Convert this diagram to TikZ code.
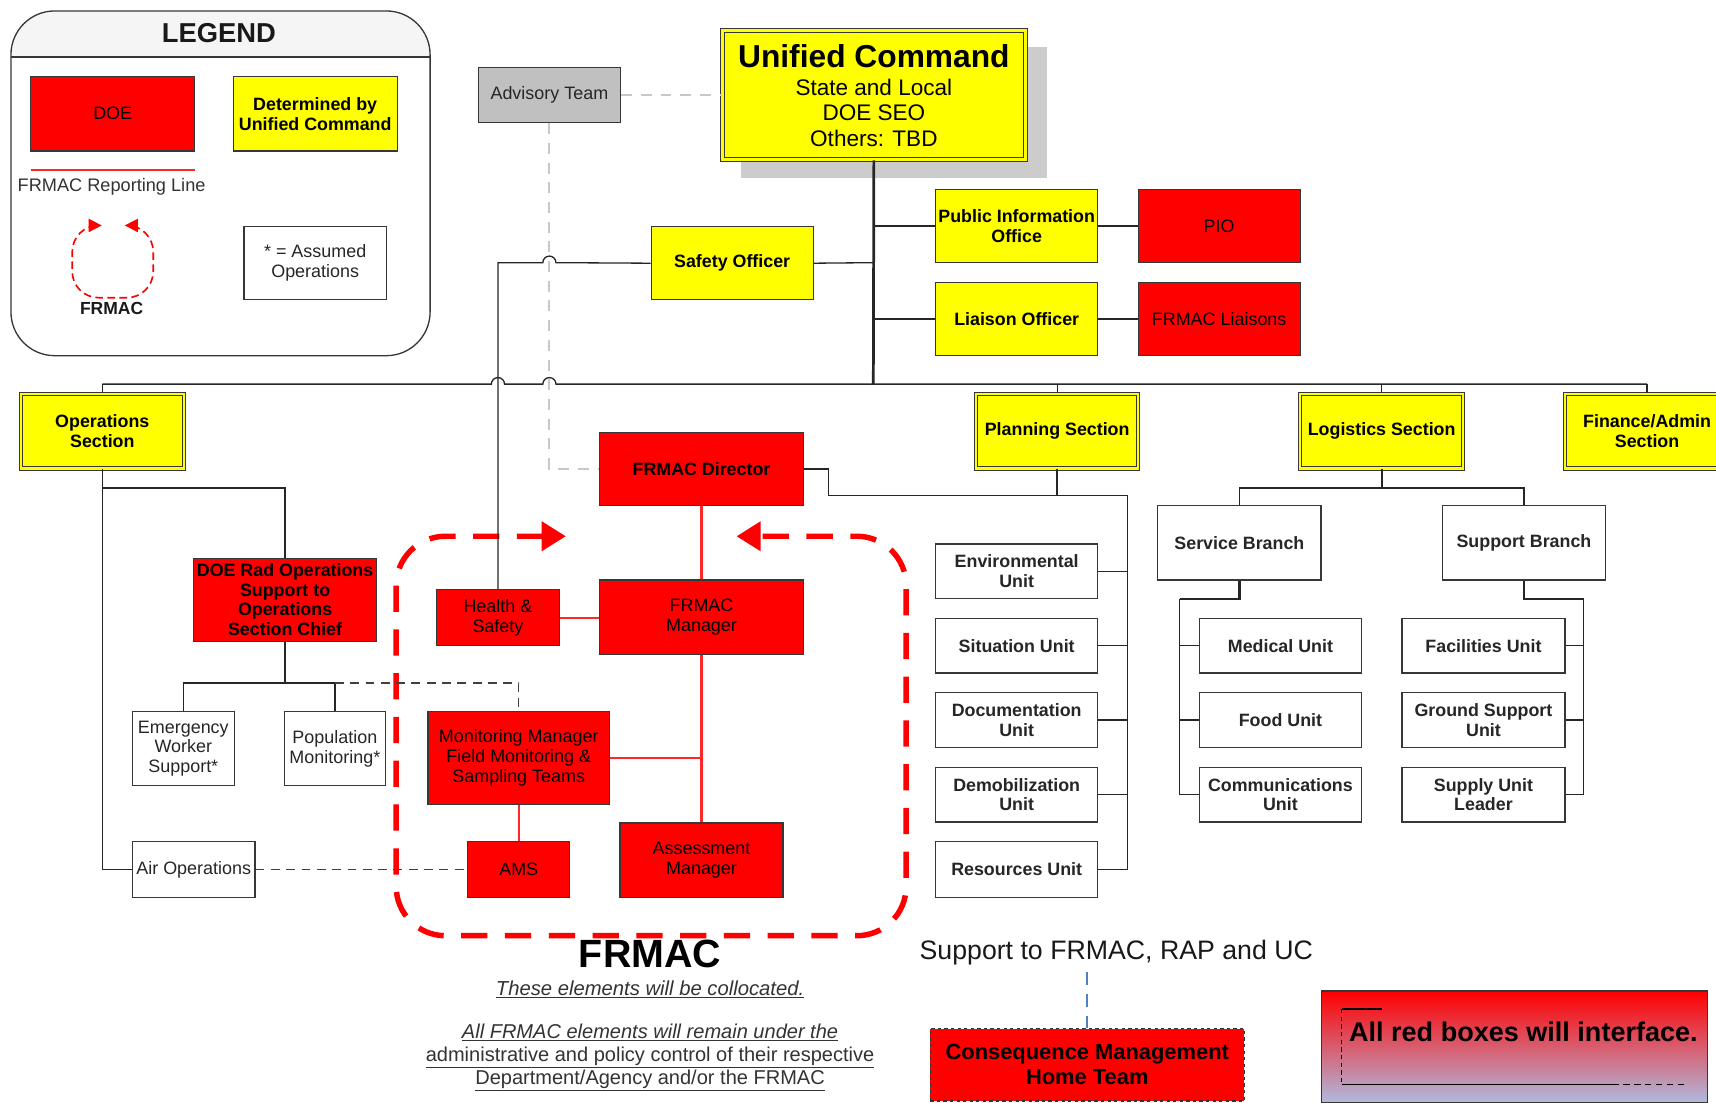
\documentclass[tikz,border=0pt]{standalone}
\usepackage{fontspec}
\setmainfont{Liberation Sans}
\usetikzlibrary{arrows.meta}
\definecolor{ylw}{RGB}{255,255,0}
\definecolor{rd}{RGB}{255,0,0}
\definecolor{rline}{RGB}{255,40,40}
\definecolor{advgray}{RGB}{192,192,192}
\definecolor{dashgray}{RGB}{200,200,200}
\definecolor{shadowgray}{RGB}{204,204,204}
\definecolor{bordr}{RGB}{55,55,55}
\definecolor{bluedash}{RGB}{79,129,189}
\definecolor{gradblue}{RGB}{176,186,222}
\begin{document}
\begin{tikzpicture}[x=1pt,y=-1pt,
  sz/.style 2 args={minimum width=#1pt, minimum height=#2pt},
  box/.style={draw=bordr, line width=1.1pt, inner sep=1pt, align=center, font=\fontsize{16.4}{18}\selectfont, text=black},
  yb/.style={box, fill=ylw, font=\fontsize{16.3}{18}\selectfont\bfseries},
  ysec/.style={yb, double=ylw, double distance=2.2pt, line width=0.9pt},
  rb/.style={box, fill=rd},
  rbb/.style={rb, font=\fontsize{16.3}{18}\selectfont\bfseries},
  wb/.style={box, fill=white, text=black!85},
  wbb/.style={wb, font=\fontsize{16.3}{18}\selectfont\bfseries},
  conn/.style={draw=black!85, line width=1.2pt},
  rconn/.style={draw=rline, line width=2pt},
  gdash/.style={draw=dashgray, line width=2pt, dash pattern=on 10pt off 8pt},
  kdash/.style={draw=black!75, line width=1.2pt, dash pattern=on 8pt off 6pt},
  bigtip/.tip={Triangle[length=22pt,width=26pt]},
  smalltip/.tip={Triangle[length=12pt,width=12pt]},
]
\useasboundingbox (0,0) rectangle (1568,1007);
\fill[white] (0,0) rectangle (1568,1007);

% ---------------- Legend ----------------
\begin{scope}
\clip[rounded corners=40pt] (10,10) rectangle (393,325);
\fill[gray!8] (10,10) rectangle (393,52);
\end{scope}
\draw[line width=1.2pt, draw=bordr, rounded corners=40pt] (10,10) rectangle (393,325);
\coordinate (lgh1) at (10,52);
\coordinate (lgh2) at (393,52);
\draw[line width=1.2pt, draw=bordr] (lgh1) -- (lgh2);
\node[font=\fontsize{25}{27}\selectfont\bfseries, text=black!90] (lgtitle) at (200,30) {LEGEND};
\node[rb, sz={150}{68}] (lgdoe) at (103,104) {DOE};
\node[yb, sz={150}{68}] (lgdet) at (288,104) {Determined by\\Unified Command};
\coordinate (lgl1) at (28,155);
\coordinate (lgl2) at (178,155);
\draw[rconn] (lgl1) -- (lgl2);
\node[font=\fontsize{16.6}{18}\selectfont, text=black!80] (lgrep) at (102,171) {FRMAC Reporting Line};
\coordinate (lga) at (93,206);
\coordinate (lgb) at (114,206);
\draw[draw=rd, line width=1.5pt, dash pattern=on 7pt off 4pt, rounded corners=24pt, {smalltip}-{smalltip}] (lga) -- (66,206) -- (66,272) -- (140,272) -- (140,206) -- (lgb);
\node[font=\fontsize{16}{18}\selectfont\bfseries, text=black!90] (lgfr) at (102,282) {FRMAC};
\node[wb, sz={130}{67}] (lgass) at (288,240.5) {* = Assumed\\Operations};

% ---------------- Command ----------------
\fill[shadowgray] (677,43) rectangle (957,163);
\node[ysec, line width=1pt, double distance=2.5pt, sz={277}{118}, font=\fontsize{20.6}{23}\selectfont] (uc) at (798.5,87)
  {{\fontsize{29}{30}\selectfont\bfseries Unified Command}\\[3pt]State and Local\\DOE SEO\\Others: TBD};
\node[box, fill=advgray, text=black!85, sz={130}{50}] (adv) at (502,87) {Advisory Team};
\node[yb, sz={148}{67}] (safety) at (669,240.5) {Safety Officer};
\node[yb, sz={148}{67}] (pioy) at (929,206.5) {Public Information\\Office};
\node[rb, sz={148}{67}] (pior) at (1114,206.5) {PIO};
\node[yb, sz={148}{67}] (liay) at (929,291.5) {Liaison Officer};
\node[rb, sz={148}{67}] (liar) at (1114,291.5) {FRMAC Liaisons};

% ---------------- Sections ----------------
\node[ysec, sz={149}{68}] (ops) at (93.5,394) {Operations\\Section};
\node[ysec, sz={148}{68}] (plan) at (966,394) {Planning Section};
\node[ysec, sz={149}{68}] (logs) at (1262.5,394) {Logistics Section};
\node[ysec, sz={150}{68}] (fin) at (1505,394) {Finance/Admin\\Section};

% ---------------- FRMAC ----------------
\coordinate (fa) at (517,490);
\coordinate (fb) at (673,490);
\draw[draw=rd, line width=5pt, dash pattern=on 24pt off 16pt, rounded corners=45pt, {bigtip}-{bigtip}] (fa) -- (362,490) -- (362,855) -- (828,855) -- (828,490) -- (fb);

\node[rbb, sz={186}{67}] (dir) at (641,428.5) {FRMAC Director};
\node[rb, sz={186}{68}] (mgr) at (641,564) {FRMAC\\Manager};
\node[rb, sz={112}{51}] (hs) at (455,564.5) {Health \&\\Safety};
\node[rb, sz={166}{85}] (mon) at (474,692.5) {Monitoring Manager\\Field Monitoring \&\\Sampling Teams};
\node[rb, sz={93}{51}] (ams) at (474,794.5) {AMS};
\node[rb, sz={149}{68}] (asm) at (641,786) {Assessment\\Manager};

% ---------------- Operations ----------------
\node[rbb, sz={167}{76}] (rad) at (260.5,548) {DOE Rad Operations\\Support to\\Operations\\Section Chief};
\node[wb, sz={93}{68}] (ews) at (167.5,684) {Emergency\\Worker\\Support*};
\node[wb, sz={92}{68}] (pop) at (306,684) {Population\\Monitoring*};
\node[wb, sz={112}{51}] (air) at (177,794.5) {Air Operations};

% ---------------- Planning ----------------
\node[wbb, sz={148}{50}] (env) at (929,522) {Environmental\\Unit};
\node[wbb, sz={148}{50}] (sit) at (929,590) {Situation Unit};
\node[wbb, sz={148}{50}] (doc) at (929,658) {Documentation\\Unit};
\node[wbb, sz={148}{50}] (dem) at (929,726) {Demobilization\\Unit};
\node[wbb, sz={148}{51}] (res) at (929,794.5) {Resources Unit};

% ---------------- Logistics ----------------
\node[wbb, sz={149}{68}] (svc) at (1132.5,496) {Service Branch};
\node[wbb, sz={149}{68}] (sup) at (1392.5,496) {Support Branch};
\node[wbb, sz={148}{50}] (med) at (1170,590) {Medical Unit};
\node[wbb, sz={148}{50}] (food) at (1170,658) {Food Unit};
\node[wbb, sz={148}{50}] (comm) at (1170,726) {Communications\\Unit};
\node[wbb, sz={149}{50}] (fac) at (1355.5,590) {Facilities Unit};
\node[wbb, sz={149}{50}] (gnd) at (1355.5,658) {Ground Support\\Unit};
\node[wbb, sz={149}{50}] (supl) at (1355.5,726) {Supply Unit\\Leader};

% ---------------- Connectors ----------------
\draw[conn, line width=2.5pt] (uc.south) -- (798,351);
\draw[conn] (93.5,351) -- (449,351) arc[start angle=180, end angle=0, radius=6pt] -- (496,351) arc[start angle=180, end angle=0, radius=6pt] -- (1505,351);
\draw[conn] (safety.west) -- (508,240) arc[start angle=0, end angle=180, radius=6pt] -- (455,240) -- (hs.north);
\draw[gdash] (adv.east) -- (uc.west);
\draw[gdash] (adv.south) -- (502,428.5) -- (dir.west);
\draw[conn] (safety.east) -- (798,240);
\draw[conn] (798,206.5) -- (pioy.west);
\draw[conn] (pioy.east) -- (pior.west);
\draw[conn] (798,291.5) -- (liay.west);
\draw[conn] (liay.east) -- (liar.west);
\draw[conn] (93.5,351) -- (ops.north);
\draw[conn] (966,351) -- (plan.north);
\draw[conn] (1262.5,351) -- (logs.north);
\draw[conn] (1505,351) -- (fin.north);

\coordinate (pv) at (1030,453);
\draw[conn] (dir.east) -- (757,428.5) -- (757,453) -- (pv) -- (res.east -| pv) -- (res.east);
\draw[conn, line width=2pt] (plan.south) -- (966,453);
\foreach \u in {env,sit,doc,dem}{\draw[conn] (\u.east) -- (\u.east -| pv);}

\draw[conn] (ops.south) -- (93.5,794.5) -- (air.west);
\draw[conn] (93.5,446) -- (260.5,446) -- (rad.north);
\draw[conn, line width=1.6pt] (rad.south) -- (260.5,624);
\draw[conn] (ews.north) -- (167.5,624) -- (306,624) -- (pop.north);
\draw[kdash] (306,624) -- (474,624) -- (mon.north);
\draw[kdash] (air.east) -- (ams.west);

\draw[rconn] (dir.south) -- (mgr.north);
\draw[rconn] (hs.east) -- (hs.east -| mgr.west);
\draw[rconn] (mgr.south) -- (asm.north);
\draw[rconn] (mon.east) -- (mon.east -| mgr.south);
\draw[rconn] (mon.south) -- (ams.north);

\draw[conn, line width=1.6pt] (logs.south) -- (1262.5,446);
\draw[conn] (svc.north) -- (1132.5,446) -- (1392.5,446) -- (sup.north);
\coordinate (sv) at (1078,547);
\coordinate (spv) at (1447,547);
\draw[conn, line width=2pt] (svc.south) -- (1132.5,547) -- (sv);
\draw[conn] (sv) -- (comm.west -| sv) -- (comm.west);
\draw[conn] (med.west -| sv) -- (med.west);
\draw[conn] (food.west -| sv) -- (food.west);
\draw[conn, line width=2pt] (sup.south) -- (1392.5,547) -- (spv);
\draw[conn] (spv) -- (supl.east -| spv) -- (supl.east);
\draw[conn] (fac.east) -- (fac.east -| spv);
\draw[conn] (gnd.east) -- (gnd.east -| spv);

% ---------------- Bottom texts ----------------
\node[font=\fontsize{36}{40}\selectfont\bfseries] (frlabel) at (594,872) {FRMAC};
\node[font=\fontsize{18.5}{20}\selectfont\itshape, text=black!80] (coll) at (594,904) {\underline{These elements will be collocated.}};
\node[align=center, font=\fontsize{18.3}{21}\selectfont, text=black!80] (allfr) at (594,966)
  {\underline{\itshape All FRMAC elements will remain under the}\\\underline{administrative and policy control of their respective}\\\underline{Department/Agency and/or the FRMAC}};
\node[font=\fontsize{24.4}{26}\selectfont, text=black!90] (supp) at (1020,870) {Support to FRMAC, RAP and UC};
\node[rbb, dashed, draw=black!80, sz={287}{66}, font=\fontsize{20}{23}\selectfont\bfseries] (cm) at (993.5,973) {Consequence Management\\Home Team};
\coordinate (bl) at (993.5,888);
\draw[draw=bluedash, line width=1.5pt, dash pattern=on 12pt off 8pt] (bl) -- (cm.north);

\node[draw=bordr, line width=1pt, top color=rd, bottom color=gradblue, sz={353}{102}, anchor=north west] (allred) at (1207,905) {};
\node[font=\fontsize{24.7}{26}\selectfont\bfseries] (allredtxt) at (1392,943) {All red boxes will interface.};
\coordinate (br1) at (1263,922);
\coordinate (br2) at (1226,922);
\coordinate (br3) at (1226,991);
\coordinate (br4) at (1473,991);
\coordinate (br5) at (1542,991);
\draw[line width=1.2pt] (br1) -- (br2);
\draw[line width=1.2pt, dash pattern=on 4pt off 3pt] (br2) -- (br3);
\draw[line width=1.2pt] (br3) -- (br4);
\draw[line width=1.2pt, dash pattern=on 6pt off 4pt] (br4) -- (br5);
\end{tikzpicture}
\end{document}
